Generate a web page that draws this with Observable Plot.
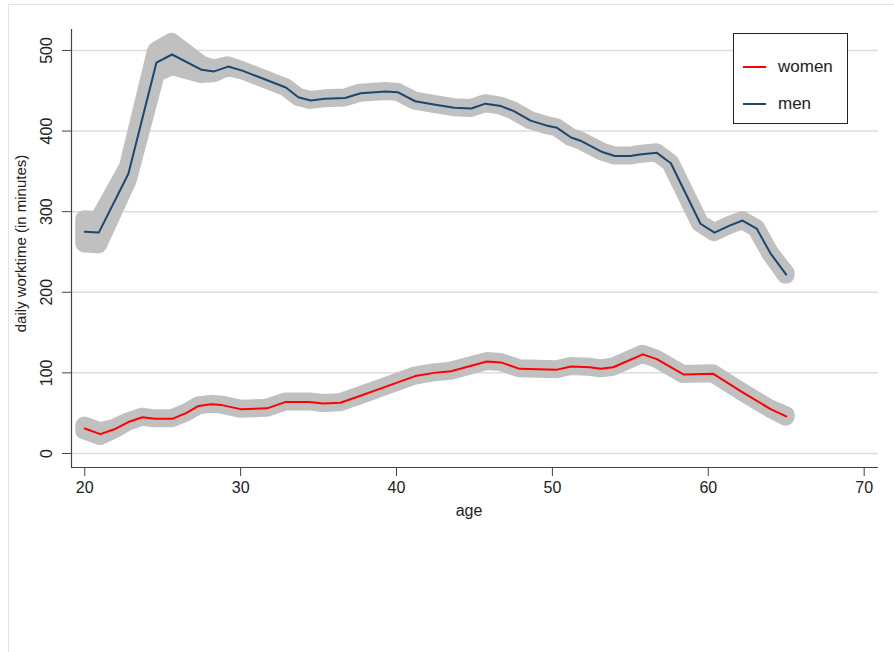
<!DOCTYPE html>
<html><head><meta charset="utf-8">
<script src="https://cdn.jsdelivr.net/npm/d3@7"></script>
<script src="https://cdn.jsdelivr.net/npm/@observablehq/plot@0.6"></script>
<style>
body{margin:0;background:#fff;font-family:"Liberation Sans",Arial,sans-serif;}
#wrap{position:relative;width:894px;height:652px;overflow:hidden;background:#fff}
#frame{position:absolute;left:8px;top:4px;width:900px;height:700px;border-top:1px solid #e2e2e2;border-left:1px solid #e2e2e2;pointer-events:none}
#legend{position:absolute;left:733px;top:33px;width:113px;height:89px;border:1px solid #222;background:#fff}
.item{position:absolute;left:0;height:20px;width:113px}
.swatch{position:absolute;left:9px;top:9px;width:23px;height:2px}
.lab{position:absolute;left:44px;top:0;font-size:17px;line-height:20px;color:#222}
</style></head>
<body>
<div id="wrap">
<div id="chart"></div>
<div id="legend"></div>
<div id="frame"></div>
</div>
<script>
const xTicks = [20, 30, 40, 50, 60, 70];
const yTicks = [0, 100, 200, 300, 400, 500];
const xDomain = [19.15, 70.92];
const yDomain = [-17.4, 526];

const seriesNames = ["women", "men"];
const seriesColors = ["#ff0000", "#1a476f"];

const menAge = [20.0, 20.9, 22.8, 24.6, 25.6, 27.5, 28.3, 29.2, 30.1, 32.9, 33.7, 34.5, 35.4, 36.7, 37.7, 39.3, 40.1, 41.2, 42.4, 43.7, 44.8, 45.7, 46.7, 47.5, 48.6, 49.6, 50.3, 51.2, 51.8, 53.2, 54.0, 55.0, 55.6, 56.7, 57.6, 59.5, 60.4, 61.4, 62.2, 63.1, 64.0, 65.0];
const menMinutes = [275, 274, 347, 485, 495, 476, 474, 480, 475, 454, 442, 438, 440, 441, 447, 449, 448, 437, 433, 429, 428, 434, 431, 425, 413, 407, 404, 392, 388, 374, 369, 369, 371, 373, 360, 285, 274, 283, 289, 279, 248, 222];
const menCI = [15, 15, 8, 14, 15, 6, 3, 1, 0, 0, 0, 0, 0, 0, 0, 0, 0, 0, 0, 0, 0, 0, 0, 0, 0, 0, 0, 0, 0, 0, 0, 0, 0, 0, 0, 0, 0, 0, 0, 0, 0, 1];

const womenAge = [20.0, 21.0, 21.9, 22.8, 23.7, 24.5, 25.6, 26.5, 27.3, 28.1, 28.8, 30.0, 31.7, 32.9, 34.4, 35.3, 36.4, 37.6, 39.9, 41.2, 42.4, 43.5, 45.8, 46.7, 47.9, 50.3, 51.2, 52.4, 53.1, 53.9, 55.8, 56.7, 58.4, 60.3, 62.1, 64.0, 65.0];
const womenMinutes = [31, 24, 30, 39, 45, 43, 43, 50, 59, 61, 60, 55, 56, 64, 64, 62, 63, 71, 87, 96, 100, 102, 114, 113, 105, 104, 108, 107, 105, 107, 123, 117, 98, 99, 77, 55, 46];
const womenCI = [3, 3, 1, 0, 0, 0, 0, 0, 0, 0, 0, 0, 0, 0, 0, 0, 0, 0, 0, 0, 0, 0, 0, 0, 0, 0, 0, 0, 0, 0, 0, 0, 0, 0, 0, 0, 1];

const build = (ages, vals, ci) => ages.map((a, i) => ({age: a, v: vals[i], lo: vals[i] - ci[i], hi: vals[i] + ci[i]}));
const men = build(menAge, menMinutes, menCI);
const women = build(womenAge, womenMinutes, womenCI);

const band = "#c0c0c0";
const axisColor = "#444";
const bandMark = (data) =>
  Plot.areaY(data, {x: "age", y1: "lo", y2: "hi", fill: band, stroke: band, strokeWidth: 18, strokeLinejoin: "round", strokeLinecap: "round"});

const chart = Plot.plot({
  width: 894, height: 652,
  marginLeft: 71, marginRight: 16, marginTop: 29, marginBottom: 185,
  style: {fontFamily: "Liberation Sans, Arial, sans-serif", fontSize: "16px", color: "#222", background: "transparent"},
  x: {domain: xDomain},
  y: {domain: yDomain},
  marks: [
    Plot.gridY(yTicks, {stroke: "#dcdcdc", strokeOpacity: 1, strokeWidth: 1.5}),
    bandMark(women),
    bandMark(men),
    Plot.line(women, {x: "age", y: "v", stroke: seriesColors[0], strokeWidth: 2}),
    Plot.line(men, {x: "age", y: "v", stroke: seriesColors[1], strokeWidth: 2}),
    Plot.ruleY([yDomain[0]], {stroke: axisColor, strokeWidth: 1.2}),
    Plot.ruleX([xDomain[0]], {stroke: axisColor, strokeWidth: 1.2}),
    Plot.axisX(xTicks, {tickSize: 9, tickPadding: 5, fontSize: 16, stroke: axisColor, label: null}),
    Plot.axisY(yTicks, {tickSize: 9, tickFormat: () => "", stroke: axisColor, label: null}),
    Plot.text(yTicks, {y: d => d, text: d => String(d), frameAnchor: "left", rotate: -90, dx: -25, fontSize: 16, textAnchor: "middle", lineAnchor: "middle", fill: "#222"}),
    Plot.text(["daily worktime (in minutes)"], {frameAnchor: "left", rotate: -90, dx: -50, dy: -5, fontSize: 15, textAnchor: "middle", lineAnchor: "middle", fill: "#222"}),
    Plot.text(["age"], {frameAnchor: "bottom", dy: 43, dx: -6, fontSize: 16, textAnchor: "middle", lineAnchor: "middle", fill: "#222"})
  ]
});
document.getElementById("chart").appendChild(chart);

const legend = document.getElementById("legend");
seriesNames.forEach((name, i) => {
  const it = document.createElement("div");
  it.className = "item";
  it.style.top = (i === 0 ? 23 : 60) + "px";
  it.innerHTML = `<div class="swatch" style="background:${seriesColors[i]}"></div><div class="lab">${name}</div>`;
  legend.appendChild(it);
});
</script>
</body></html>
